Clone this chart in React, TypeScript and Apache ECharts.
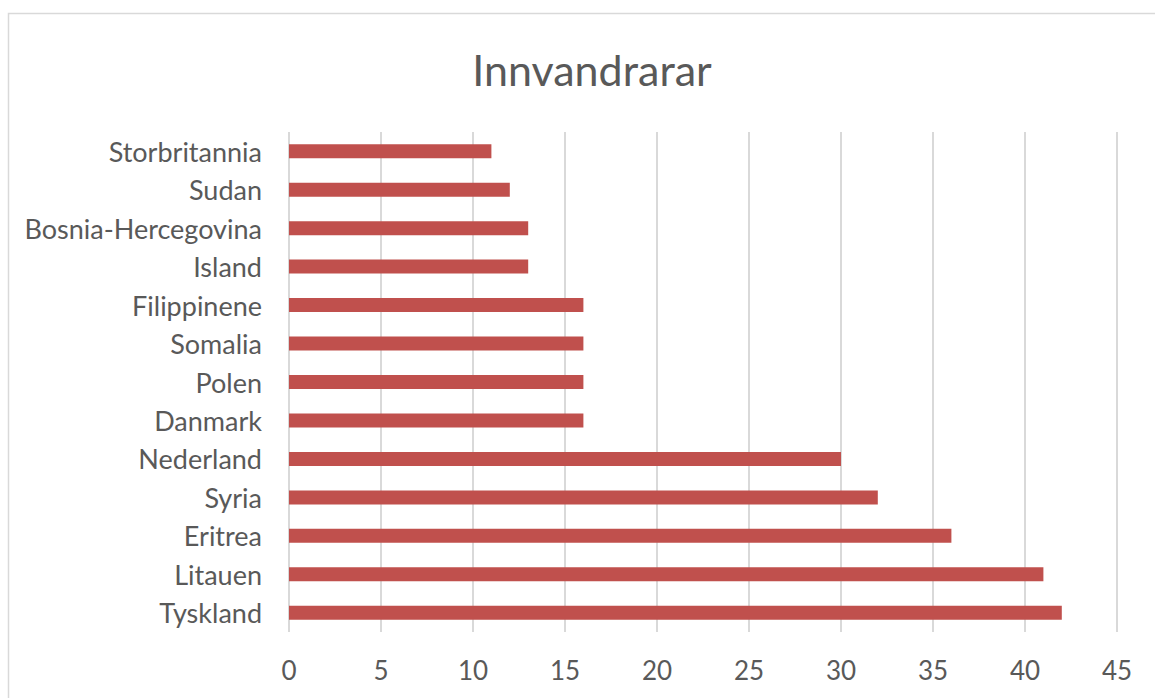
import React, { useEffect, useRef } from "react";
import * as echarts from "echarts";

const categories = [
  "Tyskland",
  "Litauen",
  "Eritrea",
  "Syria",
  "Nederland",
  "Danmark",
  "Polen",
  "Somalia",
  "Filippinene",
  "Island",
  "Bosnia-Hercegovina",
  "Sudan",
  "Storbritannia",
];
const values = [42, 41, 36, 32, 30, 16, 16, 16, 16, 13, 13, 12, 11];
const titleText = "Innvandrarar";

export default function App() {
  const ref = useRef<HTMLDivElement>(null);
  useEffect(() => {
    if (!ref.current) return;
    const chart = echarts.init(ref.current, undefined, { renderer: "svg" });
    const font = "Lato, 'Open Sans', sans-serif";
    chart.setOption({
      animation: false,
      backgroundColor: "#ffffff",
      title: {
        text: titleText,
        left: 587,
        top: 64,
        textAlign: "center",
        textVerticalAlign: "middle",
        textStyle: {
          fontFamily: font,
          fontSize: 43,
          fontWeight: "normal",
          color: "#595959",
        },
      },
      graphic: [
        {
          type: "rect",
          shape: { x: 8.5, y: 13.5, width: 1200, height: 720 },
          style: { fill: "none", stroke: "#d9d9d9", lineWidth: 1.5 },
          silent: true,
        },
      ],
      grid: { left: 289, right: 38, top: 132, bottom: 66 },
      xAxis: {
        type: "value",
        min: 0,
        max: 45,
        interval: 5,
        axisLine: { show: false },
        axisTick: { show: false },
        splitLine: { show: true, lineStyle: { color: "#d9d9d9", width: 2 } },
        axisLabel: {
          fontFamily: font,
          fontSize: 26,
          color: "#595959",
          margin: 25,
        },
      },
      yAxis: {
        type: "category",
        data: categories,
        axisLine: { show: false },
        axisTick: { show: false },
        splitLine: { show: false },
        axisLabel: {
          fontFamily: font,
          fontSize: 27,
          color: "#595959",
          margin: 27,
        },
      },
      series: [
        {
          type: "bar",
          data: values,
          barWidth: 14,
          itemStyle: { color: "#c0504d" },
        },
      ],
    });
    return () => chart.dispose();
  }, []);
  return (
    <div
      ref={ref}
      style={{ position: "absolute", left: 0, top: 0, width: 1155, height: 698 }}
    />
  );
}
